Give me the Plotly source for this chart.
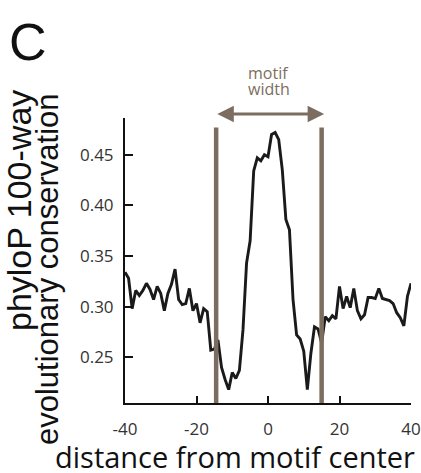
import plotly.graph_objects as go

positions = list(range(-40, 41))
conservation = [
    0.334, 0.328, 0.298, 0.316, 0.311, 0.316, 0.323, 0.317, 0.307, 0.320,
    0.313, 0.296, 0.313, 0.322, 0.337, 0.307, 0.302, 0.303, 0.318, 0.296,
    0.303, 0.284, 0.298, 0.295, 0.257, 0.258, 0.267, 0.240, 0.228, 0.218,
    0.235, 0.229, 0.237, 0.277, 0.343, 0.365, 0.434, 0.447, 0.444, 0.450,
    0.448, 0.470, 0.472, 0.465, 0.435, 0.386, 0.376, 0.307, 0.272, 0.268,
    0.256, 0.218, 0.254, 0.280, 0.278, 0.264, 0.290, 0.286, 0.291, 0.288,
    0.320, 0.298, 0.310, 0.299, 0.318, 0.296, 0.288, 0.292, 0.309, 0.309,
    0.308, 0.318, 0.308, 0.307, 0.306, 0.303, 0.294, 0.289, 0.281, 0.310,
    0.323,
]
motif_bounds = [-14.5, 15]
x_ticks = [-40, -20, 0, 20, 40]
x_tick_labels = ["-40", "-20", "0", "20", "40"]
y_ticks = [0.25, 0.30, 0.35, 0.40, 0.45]
y_tick_labels = ["0.25", "0.30", "0.35", "0.40", "0.45"]
y_title_lines = ["phyloP 100-way", "evolutionary conservation"]
x_title = "distance from motif center"
arrow_label = ["motif", "width"]

BROWN = "#7b6e60"
FONT = "Open Sans"
HELV = "Liberation Sans"

W, H = 421, 473
L, R, T, B = 125, 10, 118, 70
PW, PH = W - L - R, H - T - B


def px_x(px):
    return (px - L) / PW


def px_y(py):
    return (H - B - py) / PH


fig = go.Figure()
fig.add_trace(go.Scatter(x=positions, y=conservation, mode="lines",
                         line=dict(color="#1a1a1a", width=2.9), showlegend=False))

for b in motif_bounds:
    fig.add_shape(type="line", x0=b, x1=b, y0=0.2048, y1=0.4768,
                  xref="x", yref="y", line=dict(color=BROWN, width=4.5), layer="above")

# double-headed arrow above the plot
fig.add_annotation(x=motif_bounds[1] + 0.7, y=px_y(114), ax=motif_bounds[0] - 0.1, ay=px_y(114),
                   xref="x", yref="y domain", axref="x", ayref="y domain", text="",
                   showarrow=True, arrowhead=2, startarrowhead=2, arrowside="end+start",
                   arrowsize=1.1, startarrowsize=1.1, arrowwidth=3, arrowcolor=BROWN,
                   standoff=0, startstandoff=0)
mid = (motif_bounds[0] + motif_bounds[1]) / 2
for txt, py in zip(arrow_label, [73, 89]):
    fig.add_annotation(x=mid, y=px_y(py), xref="x", yref="paper",
                       text=txt, showarrow=False, yanchor="middle",
                       font=dict(family=FONT, size=16, color=BROWN))

fig.add_annotation(x=px_x(28), y=px_y(42), xref="paper", yref="paper",
                   xanchor="center", yanchor="middle",
                   text="C", showarrow=False, font=dict(family=HELV, size=52, color="#111"))

# y title (two lines)
for txt, px, pyc, sz in zip(y_title_lines, [19, 47], [211, 269], [34, 31]):
    fig.add_annotation(x=px_x(px), y=px_y(pyc), xref="paper", yref="paper",
                       xanchor="center", yanchor="middle", textangle=-90,
                       text=txt, showarrow=False, font=dict(family=HELV, size=sz, color="#111"))

# x title
fig.add_annotation(x=px_x(235), y=px_y(456), xref="paper", yref="paper",
                   xanchor="center", yanchor="middle",
                   text=x_title, showarrow=False, font=dict(family=FONT, size=29, color="#111"))

fig.update_layout(
    width=W, height=H,
    margin=dict(l=L, r=R, t=T, b=B, autoexpand=False),
    paper_bgcolor="white", plot_bgcolor="white",
    font=dict(family=FONT, color="#222"),
    xaxis=dict(range=[-40, 40], tickvals=x_ticks, ticktext=x_tick_labels, automargin=False,
               ticks="inside", ticklen=7, tickwidth=2,
               tickcolor="#111", showline=True, linecolor="#111", linewidth=2,
               showgrid=False, zeroline=False, ticklabelstandoff=10,
               tickfont=dict(family=FONT, size=17, color="#333")),
    yaxis=dict(range=[0.2048, 0.4863], tickvals=y_ticks, ticktext=y_tick_labels, automargin=False,
               ticks="inside", ticklen=8, tickwidth=2, tickcolor="#111",
               showline=True, linecolor="#111", linewidth=2, showgrid=False, zeroline=False,
               ticklabelstandoff=6, tickfont=dict(family=FONT, size=17, color="#333")),
)

fig.write_html("out.html", config={"displayModeBar": False},
               post_script="document.body.style.margin='0';")
